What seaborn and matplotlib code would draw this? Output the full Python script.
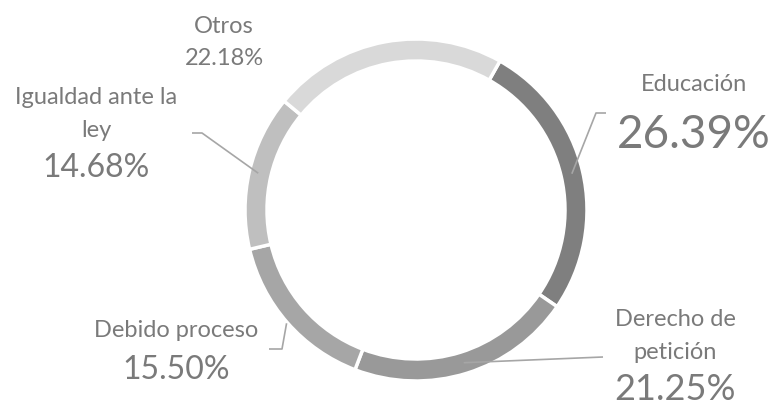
import numpy as np
import matplotlib.pyplot as plt
import seaborn as sns

# Datos del gráfico
categorias = ["Educación", "Derecho de\npetición", "Debido proceso", "Igualdad ante la\nley", "Otros"]
porcentajes = [26.39, 21.25, 15.50, 14.68, 22.18]
colores = ["#7f7f7f", "#999999", "#a6a6a6", "#bfbfbf", "#d9d9d9"]

sns.set_theme(style="white")
plt.rcParams['font.family'] = ['Lato', 'DejaVu Sans']

W, H = 776, 407
fig = plt.figure(figsize=(W / 100, H / 100), dpi=100)
ax = fig.add_axes([0, 0, 1, 1])

# Anillo (coordenadas en pixeles, y hacia arriba)
cx, cy, r, ancho = 416, H - 210, 171, 22
wedges, _ = ax.pie(porcentajes, colors=colores, startangle=60.6, counterclock=False,
                   radius=r, center=(cx, cy),
                   wedgeprops=dict(width=ancho, edgecolor='white', linewidth=2.5))
ax.set_xlim(0, W)
ax.set_ylim(0, H)
ax.set_aspect('equal')
ax.axis('off')

texto = '#7a7a7a'
linea = '#a6a6a6'
paso = 33  # separacion entre lineas

# x centro, base del nombre, base del porcentaje, tamaño nombre, tamaño %, radio ancla, codo
etiquetas = [
    (694, 91, 148, 17, 33, 160, [(596, 113), (606, 113)]),
    (675, 326, 400, 17, 26, 160, [(603, 357)]),
    (176, 337, 379, 17, 23, 172, [(282, 349), (269, 349)]),
    (96, 104, 177, 17, 23, 162, [(202, 133), (192, 133)]),
    (224, 33, 65, 17, 17, None, []),
]

for w, nombre, pct, (x, yb, yp, fs_n, fs_p, ra, codo) in zip(wedges, categorias, porcentajes, etiquetas):
    for k, parte in enumerate(nombre.split("\n")):
        ax.text(x, H - (yb + k * paso), parte, ha='center', va='baseline',
                fontsize=fs_n, color=texto)
    ax.text(x, H - yp, f"{pct:.2f}%", ha='center', va='baseline', fontsize=fs_p, color=texto)
    if ra is not None:
        ang = np.deg2rad((w.theta1 + w.theta2) / 2)
        xs = [cx + ra * np.cos(ang)] + [p[0] for p in codo]
        ys = [cy + ra * np.sin(ang)] + [H - p[1] for p in codo]
        ax.plot(xs, ys, color=linea, lw=1.2, solid_capstyle='butt')

fig.savefig("out.png", dpi=100)
